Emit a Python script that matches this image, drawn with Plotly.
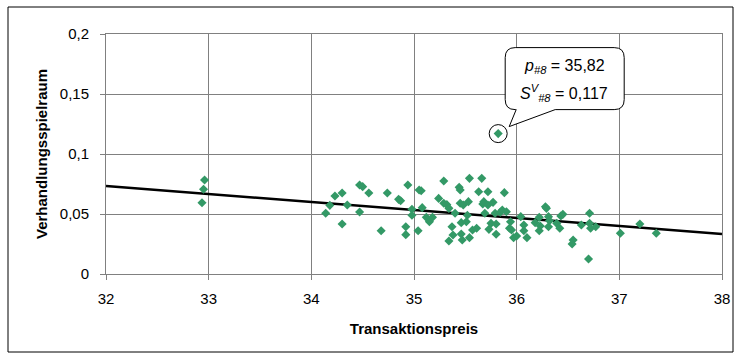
import plotly.graph_objects as go

# Transaction price vs. negotiation margin per trade
preis = [
    32.96, 32.95, 32.935,
    34.14, 34.18, 34.23, 34.30, 34.30, 34.35, 34.47, 34.50, 34.47, 34.56,
    34.68, 34.74, 34.85, 34.87, 34.94, 34.92, 34.92, 34.98, 34.98, 35.04, 35.05,
    35.07, 35.08, 35.12, 35.15, 35.18, 35.24, 35.29, 35.29, 35.32, 35.34,
    35.37, 35.38, 35.34, 35.40, 35.44, 35.45, 35.45, 35.48, 35.46, 35.46,
    35.47, 35.52, 35.53, 35.54, 35.51, 35.54, 35.57, 35.61, 35.63, 35.66,
    35.67, 35.68, 35.72, 35.72, 35.69, 35.73, 35.75, 35.77, 35.79, 35.80,
    35.80, 35.84, 35.86, 35.88, 35.90, 35.93, 35.94, 35.95, 35.97, 36.00,
    36.04, 36.07, 36.07, 36.10, 36.18, 36.22, 36.23, 36.22, 36.28, 36.29,
    36.31, 36.31, 36.32, 36.39, 36.43, 36.45, 36.42, 36.55, 36.54, 36.63,
    36.71, 36.71, 36.72, 36.77, 36.70, 37.01, 37.20, 37.36,
]
spielraum = [
    0.0783, 0.0706, 0.0594,
    0.0506, 0.0572, 0.0650, 0.0675, 0.0417, 0.0575, 0.0742, 0.0728, 0.0517, 0.0675,
    0.0361, 0.0675, 0.0622, 0.0610, 0.0742, 0.0394, 0.0328, 0.0539, 0.0490, 0.0360, 0.0700,
    0.0694, 0.0553, 0.0472, 0.0436, 0.0472, 0.0630, 0.0775, 0.0589, 0.0578, 0.0547,
    0.0394, 0.0325, 0.0275, 0.0506, 0.0722, 0.0700, 0.0589, 0.0575, 0.0428, 0.0333,
    0.0283, 0.0490, 0.0603, 0.0797, 0.0436, 0.0303, 0.0367, 0.0381, 0.0686, 0.0797,
    0.0583, 0.0603, 0.0686, 0.0575, 0.0506, 0.0372, 0.0422, 0.0597, 0.0506, 0.0417,
    0.0331, 0.0514, 0.0533, 0.0678, 0.0519, 0.0381, 0.0436, 0.0367, 0.0303, 0.0317,
    0.0478, 0.0408, 0.0361, 0.0303, 0.0428, 0.0472, 0.0400, 0.0361, 0.0561, 0.0547,
    0.0478, 0.0394, 0.0444, 0.0422, 0.0483, 0.0497, 0.0381, 0.0283, 0.0250, 0.0408,
    0.0506, 0.0422, 0.0381, 0.0394, 0.0125, 0.0340, 0.0417, 0.0340,
]

# Highlighted trade #8
p8 = 35.82
s8 = 0.117

# Linear trend
trend_x = [32, 38]
trend_y = [0.0733, 0.0333]

GREEN = "#339966"
GRID = "#808080"
FONT = "Liberation Sans, Arial, sans-serif"

fig = go.Figure()
fig.add_trace(go.Scatter(
    x=trend_x, y=trend_y, mode="lines",
    line=dict(color="black", width=2.5), hoverinfo="skip", showlegend=False,
))
fig.add_trace(go.Scatter(
    x=preis + [p8], y=spielraum + [s8], mode="markers",
    marker=dict(symbol="diamond", size=7, color=GREEN, line=dict(width=0)),
    showlegend=False,
))

# Circle around trade #8
fig.add_shape(
    type="circle", xref="x", yref="y",
    xsizemode="pixel", ysizemode="pixel", xanchor=p8, yanchor=s8,
    x0=-9, x1=9, y0=-9, y1=9,
    line=dict(color="black", width=1),
)

# Speech-bubble callout (pixel offsets from the highlighted point, y up)
L, R, T, B, r = 7, 126, 86, 24, 10
bubble = (
    f"M {L + r},{T} L {R - r},{T} Q {R},{T} {R},{T - r} "
    f"L {R},{B + r} Q {R},{B} {R - r},{B} "
    f"L 57,{B} L 11,7 L 18,{B} "
    f"L {L + r},{B} Q {L},{B} {L},{B + r} "
    f"L {L},{T - r} Q {L},{T} {L + r},{T} Z"
)
fig.add_shape(
    type="path", xref="x", yref="y",
    xsizemode="pixel", ysizemode="pixel", xanchor=p8, yanchor=s8,
    path=bubble, fillcolor="white", line=dict(color="black", width=1),
)

txt_font = dict(family=FONT, size=16, color="black")
fig.add_annotation(
    x=p8, y=s8, xref="x", yref="y", showarrow=False,
    text="<i>p</i><sub><i>#8</i></sub> = 35,82",
    xshift=66, yshift=67, font=txt_font,
)
fig.add_annotation(
    x=p8, y=s8, xref="x", yref="y", showarrow=False,
    text="<i>S</i><sup><i>V</i></sup><sub><i>#8</i></sub> = 0,117",
    xshift=66, yshift=41, font=txt_font,
)

# Outer chart frame
W, H = 737, 358
ml, mr, mt, mb = 106, 15, 34, 84
pw, ph = W - ml - mr, H - mt - mb
fig.add_shape(
    type="rect", xref="paper", yref="paper", layer="below",
    x0=(8 - ml) / pw, x1=(733 - ml) / pw,
    y0=(H - mb - 352) / ph, y1=(H - mb - 7) / ph,
    line=dict(color="black", width=1),
)

fig.update_layout(
    width=W, height=H,
    margin=dict(l=ml, r=mr, t=mt, b=mb, autoexpand=False),
    paper_bgcolor="white", plot_bgcolor="white",
    separators=",.",
    font=dict(family=FONT, size=14, color="black"),
    xaxis=dict(
        range=[32, 38], dtick=1, showgrid=True, gridcolor=GRID, gridwidth=1,
        showline=True, linecolor=GRID, linewidth=1, mirror=True,
        ticks="outside", ticklen=5, tickcolor=GRID, zeroline=False,
        automargin=False, ticklabelstandoff=6,
        tickfont=dict(family=FONT, size=15),
        title=dict(text="<b>Transaktionspreis</b>", standoff=17,
                   font=dict(family=FONT, size=15)),
    ),
    yaxis=dict(
        range=[0, 0.2], dtick=0.05, showgrid=True, gridcolor=GRID, gridwidth=1,
        showline=True, linecolor=GRID, linewidth=1, mirror=True,
        ticks="outside", ticklen=5, tickcolor=GRID, zeroline=False,
        automargin=False, ticklabelstandoff=8,
        tickfont=dict(family=FONT, size=15),
        title=dict(text="<b>Verhandlungsspielraum</b>", standoff=8,
                   font=dict(family=FONT, size=15)),
    ),
)

fig.write_html("out.html")
